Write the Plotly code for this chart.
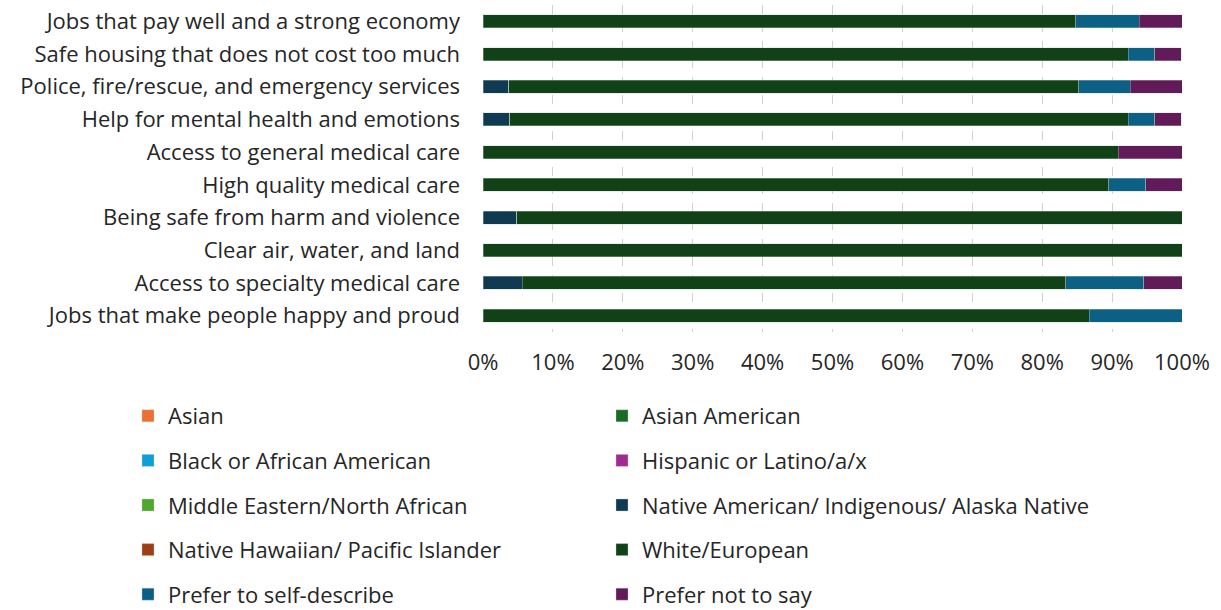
import plotly.graph_objects as go

categories = [
    "Jobs that pay well and a strong economy",
    "Safe housing that does not cost too much",
    "Police, fire/rescue, and emergency services",
    "Help for mental health and emotions",
    "Access to general medical care",
    "High quality medical care",
    "Being safe from harm and violence",
    "Clear air, water, and land",
    "Access to specialty medical care",
    "Jobs that make people happy and proud",
]

# Share of respondents (%) per group, in category order
asian = [0, 0, 0, 0, 0, 0, 0, 0, 0, 0]
asian_american = [0, 0, 0, 0, 0, 0, 0, 0, 0, 0]
black = [0, 0, 0, 0, 0, 0, 0, 0, 0, 0]
hispanic = [0, 0, 0, 0, 0, 0, 0, 0, 0, 0]
middle_eastern = [0, 0, 0, 0, 0, 0, 0, 0, 0, 0]
native_american = [0, 0, 3.7, 3.8, 0, 0, 4.8, 0, 5.6, 0]
native_hawaiian = [0, 0, 0, 0, 0, 0, 0, 0, 0, 0]
white_european = [84.8, 92.3, 81.5, 88.5, 90.9, 89.5, 95.2, 100, 77.8, 86.7]
self_describe = [9.1, 3.8, 7.4, 3.8, 0, 5.3, 0, 0, 11.1, 13.3]
not_to_say = [6.1, 3.8, 7.4, 3.8, 9.1, 5.3, 0, 0, 5.6, 0]

tick_vals = [0, 10, 20, 30, 40, 50, 60, 70, 80, 90, 100]
tick_text = ["0%", "10%", "20%", "30%", "40%", "50%", "60%", "70%", "80%", "90%", "100%"]

series = [
    ("Asian", asian, "#E97132", "legend", 1),
    ("Asian American", asian_american, "#196B24", "legend2", 1),
    ("Black or African American", black, "#0F9ED5", "legend", 2),
    ("Hispanic or Latino/a/x", hispanic, "#A02B93", "legend2", 2),
    ("Middle Eastern/North African", middle_eastern, "#4EA72E", "legend", 3),
    ("Native American/ Indigenous/ Alaska Native", native_american, "#0F3A52", "legend2", 3),
    ("Native Hawaiian/ Pacific Islander", native_hawaiian, "#9C3F14", "legend", 4),
    ("White/European", white_european, "#114117", "legend2", 4),
    ("Prefer to self-describe", self_describe, "#0C6086", "legend", 5),
    ("Prefer not to say", not_to_say, "#611B58", "legend2", 5),
]

FONT = "Open Sans"
SIZE = 22

fig = go.Figure()
for name, vals, color, leg, grp in series:
    fig.add_trace(go.Bar(
        name=name,
        y=categories,
        x=vals,
        orientation="h",
        marker=dict(color=color, line=dict(color="rgba(200,210,200,0.6)", width=0.6)),
        legend=leg,
        legendgroup=f"{leg}-{grp}",
    ))

legend_style = dict(
    xref="container", yref="container",
    yanchor="top", xanchor="left",
    traceorder="grouped",
    tracegroupgap=13,
    font=dict(family=FONT, size=SIZE, color="#262626"),
    bgcolor="rgba(0,0,0,0)",
    itemclick=False, itemdoubleclick=False,
)

fig.update_layout(
    width=1221, height=610,
    barmode="stack",
    bargap=0.6,
    plot_bgcolor="white",
    paper_bgcolor="white",
    font=dict(family=FONT, size=SIZE, color="#262626"),
    margin=dict(l=483, r=39, t=5, b=278, autoexpand=False),
    legend=dict(x=128 / 1221, y=1 - 395 / 610, **legend_style),
    legend2=dict(x=602 / 1221, y=1 - 395 / 610, **legend_style),
    xaxis=dict(
        range=[0, 100],
        tickvals=tick_vals,
        ticktext=tick_text,
        showgrid=True,
        gridcolor="#D0D0D0",
        griddash="dash",
        gridwidth=1,
        zeroline=False,
        showline=False,
        automargin=False,
        ticklabelstandoff=15,
        tickfont=dict(family=FONT, size=SIZE, color="#262626"),
    ),
    yaxis=dict(
        autorange="reversed",
        showgrid=False,
        zeroline=False,
        showline=False,
        automargin=False,
        ticklabelstandoff=22,
        tickfont=dict(family=FONT, size=SIZE, color="#262626"),
    ),
)

fig.write_html("out.html")
